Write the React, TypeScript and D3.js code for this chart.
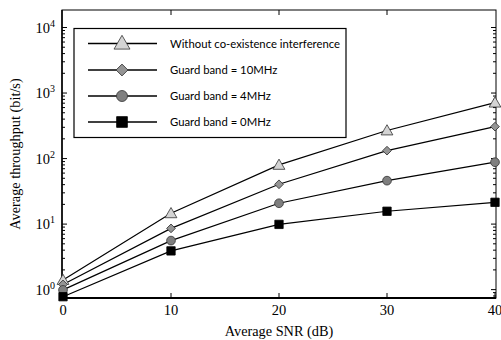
import React, { useEffect, useRef } from 'react';
import * as d3 from 'd3';

const snr = [0, 10, 20, 30, 40];
const withoutInterference = [1.4, 14.6, 80, 268, 713];
const guard10 = [1.2, 8.6, 40.5, 132, 307];
const guard4 = [0.99, 5.6, 20.8, 46, 88];
const guard0 = [0.78, 3.9, 9.9, 15.7, 21.5];
const xTicks = [0, 10, 20, 30, 40];
const yDecades = [0, 1, 2, 3, 4];

const seriesNames = [
  'Without co-existence interference',
  'Guard band = 10MHz',
  'Guard band = 4MHz',
  'Guard band = 0MHz',
];

const width = 501;
const height = 340;
const margin = { top: 10, right: 5, bottom: 42, left: 62 };

const App = () => {
  const svgRef = useRef(null);

  useEffect(() => {
    const svg = d3.select(svgRef.current);
    svg.selectAll('*').remove();

    const x = d3.scaleLinear().domain([0, 40]).range([margin.left + 1, width - margin.right - 1]);
    const y = d3.scaleLog().domain([0.745, 18500]).range([height - margin.bottom, margin.top]);

    const left = margin.left;
    const right = width - margin.right;
    const top = margin.top;
    const bottom = height - margin.bottom;

    const serif = '"Liberation Serif", serif';
    const sans = 'Lato, "Open Sans", sans-serif';

    // frame
    svg.append('rect')
      .attr('x', left).attr('y', top)
      .attr('width', right - left).attr('height', bottom - top)
      .attr('fill', 'none').attr('stroke', '#000').attr('stroke-width', 1);
    svg.append('line').attr('x1', left).attr('x2', right).attr('y1', bottom).attr('y2', bottom)
      .attr('stroke', '#000').attr('stroke-width', 2);
    svg.append('line').attr('x1', left).attr('x2', left).attr('y1', top).attr('y2', bottom)
      .attr('stroke', '#000').attr('stroke-width', 1.5);

    // x ticks
    const g = svg.append('g').attr('stroke', '#000').attr('stroke-width', 1);
    xTicks.forEach(t => {
      g.append('line').attr('x1', x(t)).attr('x2', x(t)).attr('y1', bottom).attr('y2', bottom - 5);
      if (t > 0 && t < 40) {
        g.append('line').attr('x1', x(t)).attr('x2', x(t)).attr('y1', top).attr('y2', top + 5);
      }
      svg.append('text')
        .attr('x', x(t)).attr('y', bottom + 17)
        .attr('text-anchor', 'middle')
        .attr('font-family', serif).attr('font-size', 14.5)
        .text(t);
    });

    // y ticks
    const minor = [];
    for (let e = -1; e <= 4; e++) {
      for (let m = 2; m <= 9; m++) {
        const v = m * Math.pow(10, e);
        if (v > 0.745 && v < 18500) minor.push(v);
      }
    }
    minor.forEach(v => {
      g.append('line').attr('x1', left).attr('x2', left + 3).attr('y1', y(v)).attr('y2', y(v));
      g.append('line').attr('x1', right).attr('x2', right - 3).attr('y1', y(v)).attr('y2', y(v));
    });
    yDecades.forEach(e => {
      const v = Math.pow(10, e);
      g.append('line').attr('x1', left).attr('x2', left + 5).attr('y1', y(v)).attr('y2', y(v));
      g.append('line').attr('x1', right).attr('x2', right - 5).attr('y1', y(v)).attr('y2', y(v));
      const txt = svg.append('text')
        .attr('x', left - 7).attr('y', y(v) + 5)
        .attr('text-anchor', 'end')
        .attr('font-family', serif).attr('font-size', 14.5);
      txt.append('tspan').text('10');
      txt.append('tspan').attr('dy', -6).attr('font-size', 10).text(e);
    });

    // axis titles
    svg.append('text')
      .attr('x', (left + right) / 2).attr('y', 336)
      .attr('text-anchor', 'middle')
      .attr('font-family', serif).attr('font-size', 14.3)
      .text('Average SNR (dB)');
    svg.append('text')
      .attr('transform', `translate(20,${(top + bottom) / 2}) rotate(-90)`)
      .attr('text-anchor', 'middle')
      .attr('font-family', serif).attr('font-size', 14.3)
      .text('Average throughput (bit/s)');

    const series = [withoutInterference, guard10, guard4, guard0];
    const styles = [
      { shape: d3.symbolTriangle, fill: '#d4d4d4', size: 60, legendSize: 110, dy: 1, rot: 0 },
      { shape: d3.symbolSquare, fill: '#959595', size: 38, legendSize: 70, dy: 0, rot: 45 },
      { shape: d3.symbolCircle, fill: '#7f7f7f', size: 60, legendSize: 95, dy: 0, rot: 0 },
      { shape: d3.symbolSquare, fill: '#000', size: 70, legendSize: 115, dy: 0, rot: 0 },
    ];

    const line = d3.line().x(d => x(d[0])).y(d => y(d[1]));

    series.forEach(vals => {
      const pts = snr.map((s, j) => [s, vals[j]]);
      svg.append('path')
        .attr('d', line(pts))
        .attr('fill', 'none').attr('stroke', '#000').attr('stroke-width', 1.2);
    });
    series.forEach((vals, i) => {
      const st = styles[i];
      svg.append('g').selectAll('path')
        .data(snr.map((s, j) => [s, vals[j]]))
        .join('path')
        .attr('transform', d => `translate(${x(d[0])},${y(d[1]) + st.dy}) rotate(${st.rot})`)
        .attr('d', d3.symbol().type(st.shape).size(st.size)())
        .attr('fill', st.fill)
        .attr('stroke', i === 3 ? '#000' : '#333')
        .attr('stroke-width', 0.8);
    });

    // legend
    const lg = svg.append('g');
    lg.append('rect')
      .attr('x', 74).attr('y', 28.5).attr('width', 272).attr('height', 109)
      .attr('fill', '#fff').attr('stroke', '#000').attr('stroke-width', 1.2);
    const rowY = [43.5, 70, 96, 122];
    seriesNames.forEach((name, i) => {
      const st = styles[i];
      lg.append('line')
        .attr('x1', 88).attr('x2', 157).attr('y1', rowY[i]).attr('y2', rowY[i])
        .attr('stroke', '#000').attr('stroke-width', 1.5);
      lg.append('path')
        .attr('transform', `translate(122,${rowY[i] + st.dy}) rotate(${st.rot})`)
        .attr('d', d3.symbol().type(st.shape).size(st.legendSize)())
        .attr('fill', st.fill)
        .attr('stroke', i === 3 ? '#000' : '#333')
        .attr('stroke-width', 0.8);
      lg.append('text')
        .attr('x', 170).attr('y', rowY[i] + 4)
        .attr('font-family', sans).attr('font-size', 11.3)
        .text(name);
    });
  }, []);

  return (
    <svg ref={svgRef} width={width} height={height}
      style={{ position: 'absolute', left: 0, top: 0, background: '#fff' }} />
  );
};

export default App;
